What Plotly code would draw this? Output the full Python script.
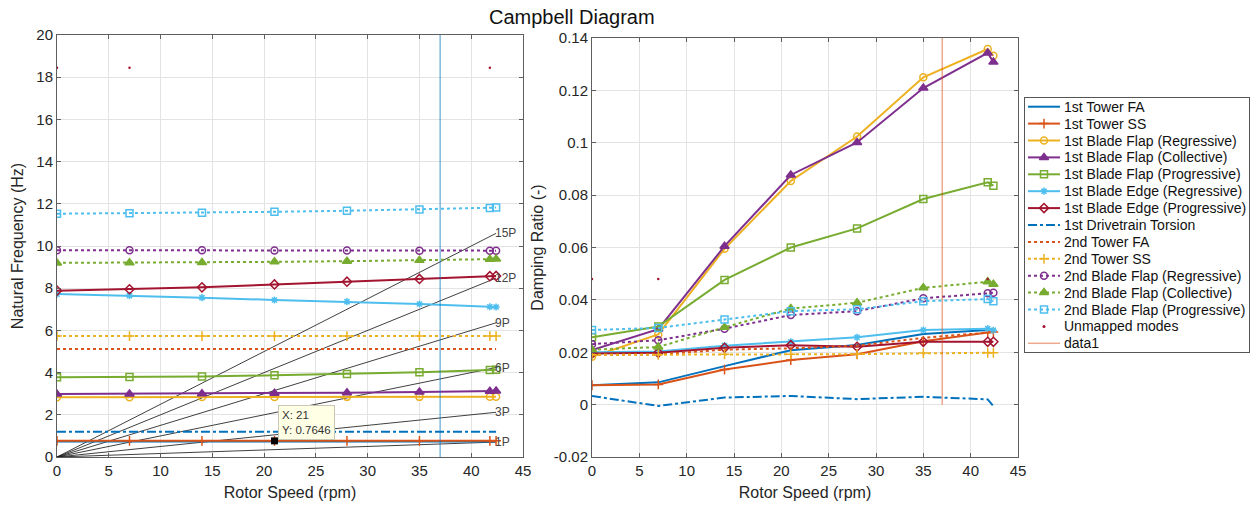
import plotly.graph_objects as go

# ---------------- data ----------------
rpm = [0, 7, 14, 21, 28, 35, 41.8, 42.4]

freq_tower_fa1 = [0.74, 0.74, 0.74, 0.74, 0.74, 0.74, 0.74, 0.74]
freq_tower_ss1 = [0.765, 0.765, 0.765, 0.7646, 0.765, 0.765, 0.765, 0.765]
freq_flap_reg1 = [2.83, 2.83, 2.84, 2.84, 2.85, 2.85, 2.86, 2.86]
freq_flap_col1 = [2.98, 2.99, 3.0, 3.02, 3.05, 3.08, 3.12, 3.13]
freq_flap_pro1 = [3.78, 3.79, 3.82, 3.87, 3.93, 4.02, 4.12, 4.14]
freq_edge_reg1 = [7.72, 7.65, 7.55, 7.44, 7.36, 7.25, 7.12, 7.11]
freq_edge_pro1 = [7.88, 7.95, 8.04, 8.18, 8.31, 8.44, 8.57, 8.58]
freq_drivetrain = [1.2, 1.2, 1.2, 1.2, 1.2, 1.2, 1.2, 1.2]
freq_tower_fa2 = [5.12, 5.12, 5.12, 5.12, 5.12, 5.12, 5.12, 5.12]
freq_tower_ss2 = [5.73, 5.73, 5.73, 5.73, 5.73, 5.73, 5.73, 5.73]
freq_flap_reg2 = [9.8, 9.8, 9.8, 9.79, 9.79, 9.78, 9.78, 9.78]
freq_flap_col2 = [9.2, 9.21, 9.22, 9.25, 9.28, 9.32, 9.37, 9.38]
freq_flap_pro2 = [11.53, 11.55, 11.58, 11.62, 11.67, 11.73, 11.8, 11.82]

damp_tower_fa1 = [0.0074, 0.0085, 0.0147, 0.0208, 0.0228, 0.027, 0.0285, 0.0287]
damp_tower_ss1 = [0.0074, 0.0077, 0.0134, 0.017, 0.0192, 0.0242, 0.0275, 0.0277]
damp_flap_reg1 = [0.0183, 0.0268, 0.0595, 0.0854, 0.1024, 0.125, 0.1358, 0.1332]
damp_flap_col1 = [0.0208, 0.0288, 0.0605, 0.0877, 0.1001, 0.1209, 0.1343, 0.1308]
damp_flap_pro1 = [0.0257, 0.0298, 0.0476, 0.060, 0.0673, 0.0785, 0.0849, 0.0836]
damp_edge_reg1 = [0.0200, 0.0203, 0.0225, 0.024, 0.0257, 0.0285, 0.029, 0.0284]
damp_edge_pro1 = [0.0195, 0.0198, 0.0217, 0.0227, 0.0221, 0.024, 0.024, 0.024]
damp_drivetrain = [0.0033, -0.0005, 0.0027, 0.0033, 0.0021, 0.003, 0.002, -0.0006]
damp_tower_fa2 = [0.019, 0.0192, 0.021, 0.0215, 0.0225, 0.0255, 0.0275, 0.0278]
damp_tower_ss2 = [0.019, 0.019, 0.0192, 0.0192, 0.0193, 0.0197, 0.0198, 0.0198]
damp_flap_reg2 = [0.0231, 0.0246, 0.029, 0.0342, 0.0357, 0.0406, 0.0425, 0.0427]
damp_flap_col2 = [0.021, 0.022, 0.0295, 0.0367, 0.0389, 0.0446, 0.0469, 0.046]
damp_flap_pro2 = [0.0285, 0.0293, 0.0325, 0.0357, 0.0364, 0.0395, 0.0403, 0.0395]

unmapped_rpm = [0, 7, 41.8]
unmapped_freq = [18.45, 18.45, 18.45]
unmapped_damp = [0.048, 0.048, 0.048]

harmonics = [1, 3, 6, 9, 12, 15]
harmonic_labels = ["1P", "3P", "6P", "9P", "12P", "15P"]

marker_rpm = 37
tip_x, tip_y = 21, 0.7646

# ---------------- styles ----------------
BLUE, ORANGE, YELLOW, PURPLE = "#0072BD", "#D95319", "#EDB120", "#7E2F8E"
GREEN, CYAN, RED = "#77AC30", "#4DBEEE", "#A2142F"
VLINE_L = "rgba(0,114,189,0.5)"
VLINE_R = "rgba(217,83,25,0.5)"

modes = [
    ("1st Tower FA", freq_tower_fa1, damp_tower_fa1, BLUE, "solid", None),
    ("1st Tower SS", freq_tower_ss1, damp_tower_ss1, ORANGE, "solid", "cross-thin-open"),
    ("1st Blade Flap (Regressive)", freq_flap_reg1, damp_flap_reg1, YELLOW, "solid", "circle-open"),
    ("1st Blade Flap (Collective)", freq_flap_col1, damp_flap_col1, PURPLE, "solid", "triangle-up"),
    ("1st Blade Flap (Progressive)", freq_flap_pro1, damp_flap_pro1, GREEN, "solid", "square-open"),
    ("1st Blade Edge (Regressive)", freq_edge_reg1, damp_edge_reg1, CYAN, "solid", "asterisk-open"),
    ("1st Blade Edge (Progressive)", freq_edge_pro1, damp_edge_pro1, RED, "solid", "diamond-open"),
    ("1st Drivetrain Torsion", freq_drivetrain, damp_drivetrain, BLUE, "dashdot", None),
    ("2nd Tower FA", freq_tower_fa2, damp_tower_fa2, ORANGE, "dot", None),
    ("2nd Tower SS", freq_tower_ss2, damp_tower_ss2, YELLOW, "dot", "cross-thin-open"),
    ("2nd Blade Flap (Regressive)", freq_flap_reg2, damp_flap_reg2, PURPLE, "dot", "circle-open"),
    ("2nd Blade Flap (Collective)", freq_flap_col2, damp_flap_col2, GREEN, "dot", "triangle-up"),
    ("2nd Blade Flap (Progressive)", freq_flap_pro2, damp_flap_pro2, CYAN, "dot", "square-open"),
]

FONT = "Liberation Sans, Arial, Helvetica, sans-serif"
W, H = 1252, 507
fig = go.Figure()


def marker_style(sym, col):
    if not sym:
        return None
    size = {"cross-thin-open": 7, "asterisk-open": 6, "triangle-up": 8}.get(sym, 7)
    return dict(symbol=sym, size=size, color=col, line=dict(color=col, width=1.5))


# per-rev lines (left)
rmax = rpm[-1]
for n, lab in zip(harmonics, harmonic_labels):
    fig.add_trace(go.Scatter(x=[0, rmax], y=[0, n * rmax / 60], mode="lines",
                             line=dict(color="rgba(30,30,30,0.85)", width=1),
                             hoverinfo="skip", xaxis="x", yaxis="y"))
    fig.add_annotation(x=rmax, y=n * rmax / 60, text=lab, showarrow=False,
                       xref="x", yref="y", xanchor="left", yanchor="middle", xshift=-3,
                       font=dict(size=12, color="#444", family=FONT))

for name, fr, dp, col, dash, sym in modes:
    kw = dict(mode="lines+markers" if sym else "lines",
              line=dict(color=col, width=2, dash=dash), name=name)
    if sym:
        kw["marker"] = marker_style(sym, col)
    fig.add_trace(go.Scatter(x=rpm, y=fr, xaxis="x", yaxis="y", **kw))
    fig.add_trace(go.Scatter(x=rpm, y=dp, xaxis="x2", yaxis="y2", **kw))

# unmapped
for xa, ya, vals in [("x", "y", unmapped_freq), ("x2", "y2", unmapped_damp)]:
    fig.add_trace(go.Scatter(x=unmapped_rpm, y=vals, mode="markers", name="Unmapped modes",
                             marker=dict(color=RED, size=2.5), xaxis=xa, yaxis=ya))

# vertical marker lines
fig.add_trace(go.Scatter(x=[marker_rpm, marker_rpm], y=[0, 20], mode="lines",
                         line=dict(color=VLINE_L, width=1.5), xaxis="x", yaxis="y"))
fig.add_trace(go.Scatter(x=[marker_rpm, marker_rpm], y=[0, 0.14], mode="lines", name="data1",
                         line=dict(color=VLINE_R, width=1.5), xaxis="x2", yaxis="y2"))

# data tip
fig.add_trace(go.Scatter(x=[tip_x], y=[tip_y], mode="markers",
                         marker=dict(symbol="square", size=7, color="black"),
                         xaxis="x", yaxis="y"))
fig.add_annotation(x=tip_x + 0.35, y=2.48, xref="x", yref="y", xanchor="left", yanchor="top",
                   text=f"X: {tip_x}<br>Y: {tip_y}", showarrow=False, align="left",
                   bgcolor="#FFFFE6", bordercolor="#C8C8B4", borderwidth=1, borderpad=3,
                   font=dict(size=11.5, color="#333", family=FONT))

# ---------------- manual legend (own axis) ----------------
leg_names = [m[0] for m in modes] + ["Unmapped modes", "data1"]
leg_styles = [(m[3], m[4], m[5]) for m in modes] + [(RED, None, "dot-only"), (VLINE_R, "solid", None)]
row_h = 16.9
for i, (name, (col, dash, sym)) in enumerate(zip(leg_names, leg_styles)):
    if sym == "dot-only":
        fig.add_trace(go.Scatter(x=[19], y=[i], mode="markers", marker=dict(color=col, size=3),
                                 xaxis="x3", yaxis="y3"))
    else:
        kw = dict(mode="lines", line=dict(color=col, width=2 if col != VLINE_R else 1.5, dash=dash))
        fig.add_trace(go.Scatter(x=[3, 35], y=[i, i], xaxis="x3", yaxis="y3", **kw))
        if sym:
            fig.add_trace(go.Scatter(x=[19], y=[i], mode="markers", marker=marker_style(sym, col),
                                     xaxis="x3", yaxis="y3"))
    fig.add_annotation(x=37, y=i, xref="x3", yref="y3", text=name, showarrow=False,
                       xanchor="left", yanchor="middle",
                       font=dict(size=14, color="#111", family=FONT))

leg_left, leg_right, leg_top, leg_bot = 1025, 1249, 98, 352
pad = (leg_bot - leg_top - row_h * (len(leg_names) - 1)) / 2 / row_h

axis_common = dict(showgrid=True, gridcolor="#E3E3E3", gridwidth=1, showline=True,
                   linecolor="#5E5E5E", linewidth=1, mirror="ticks", ticks="inside",
                   ticklen=4, tickcolor="#5E5E5E", zeroline=False, automargin=False,
                   tickfont=dict(size=15, color="#262626", family=FONT),
                   title_font=dict(size=16, color="#262626", family=FONT))

fig.update_layout(
    width=W, height=H,
    margin=dict(l=0, r=0, t=0, b=0),
    paper_bgcolor="white", plot_bgcolor="white",
    font=dict(family=FONT, color="#262626"),
    showlegend=False,
    xaxis=dict(domain=[57 / W, 523 / W], range=[0, 45], dtick=5, anchor="y",
               title=dict(text="Rotor Speed (rpm)", standoff=8), **axis_common),
    yaxis=dict(domain=[(H - 457) / H, (H - 35) / H], range=[0, 20], dtick=2, anchor="x",
               title=dict(text="Natural Frequency (Hz)", standoff=8), **axis_common),
    xaxis2=dict(domain=[592 / W, 1018 / W], range=[0, 45], dtick=5, anchor="y2",
                title=dict(text="Rotor Speed (rpm)", standoff=8), **axis_common),
    yaxis2=dict(domain=[(H - 457) / H, (H - 38) / H], range=[-0.02, 0.14], anchor="x2",
                tickvals=[-0.02, 0, 0.02, 0.04, 0.06, 0.08, 0.1, 0.12, 0.14],
                ticktext=["-0.02", "0", "0.02", "0.04", "0.06", "0.08", "0.1", "0.12", "0.14"],
                title=dict(text="Damping Ratio (-)", standoff=6), **axis_common),
    xaxis3=dict(domain=[leg_left / W, leg_right / W], range=[0, leg_right - leg_left], anchor="y3",
                showgrid=False, zeroline=False, showticklabels=False, ticks="",
                showline=True, mirror=True, linecolor="#555", linewidth=1, automargin=False,
                fixedrange=True),
    yaxis3=dict(domain=[(H - leg_bot) / H, (H - leg_top) / H],
                range=[len(leg_names) - 1 + pad, -pad], anchor="x3",
                showgrid=False, zeroline=False, showticklabels=False, ticks="",
                showline=True, mirror=True, linecolor="#555", linewidth=1, automargin=False,
                fixedrange=True),
)
fig.add_annotation(x=572 / W, y=1 - 17 / H, xref="paper", yref="paper", text="Campbell Diagram",
                   showarrow=False, xanchor="center", yanchor="middle",
                   font=dict(size=20, color="#111", family=FONT))

fig.write_html("out.html")
